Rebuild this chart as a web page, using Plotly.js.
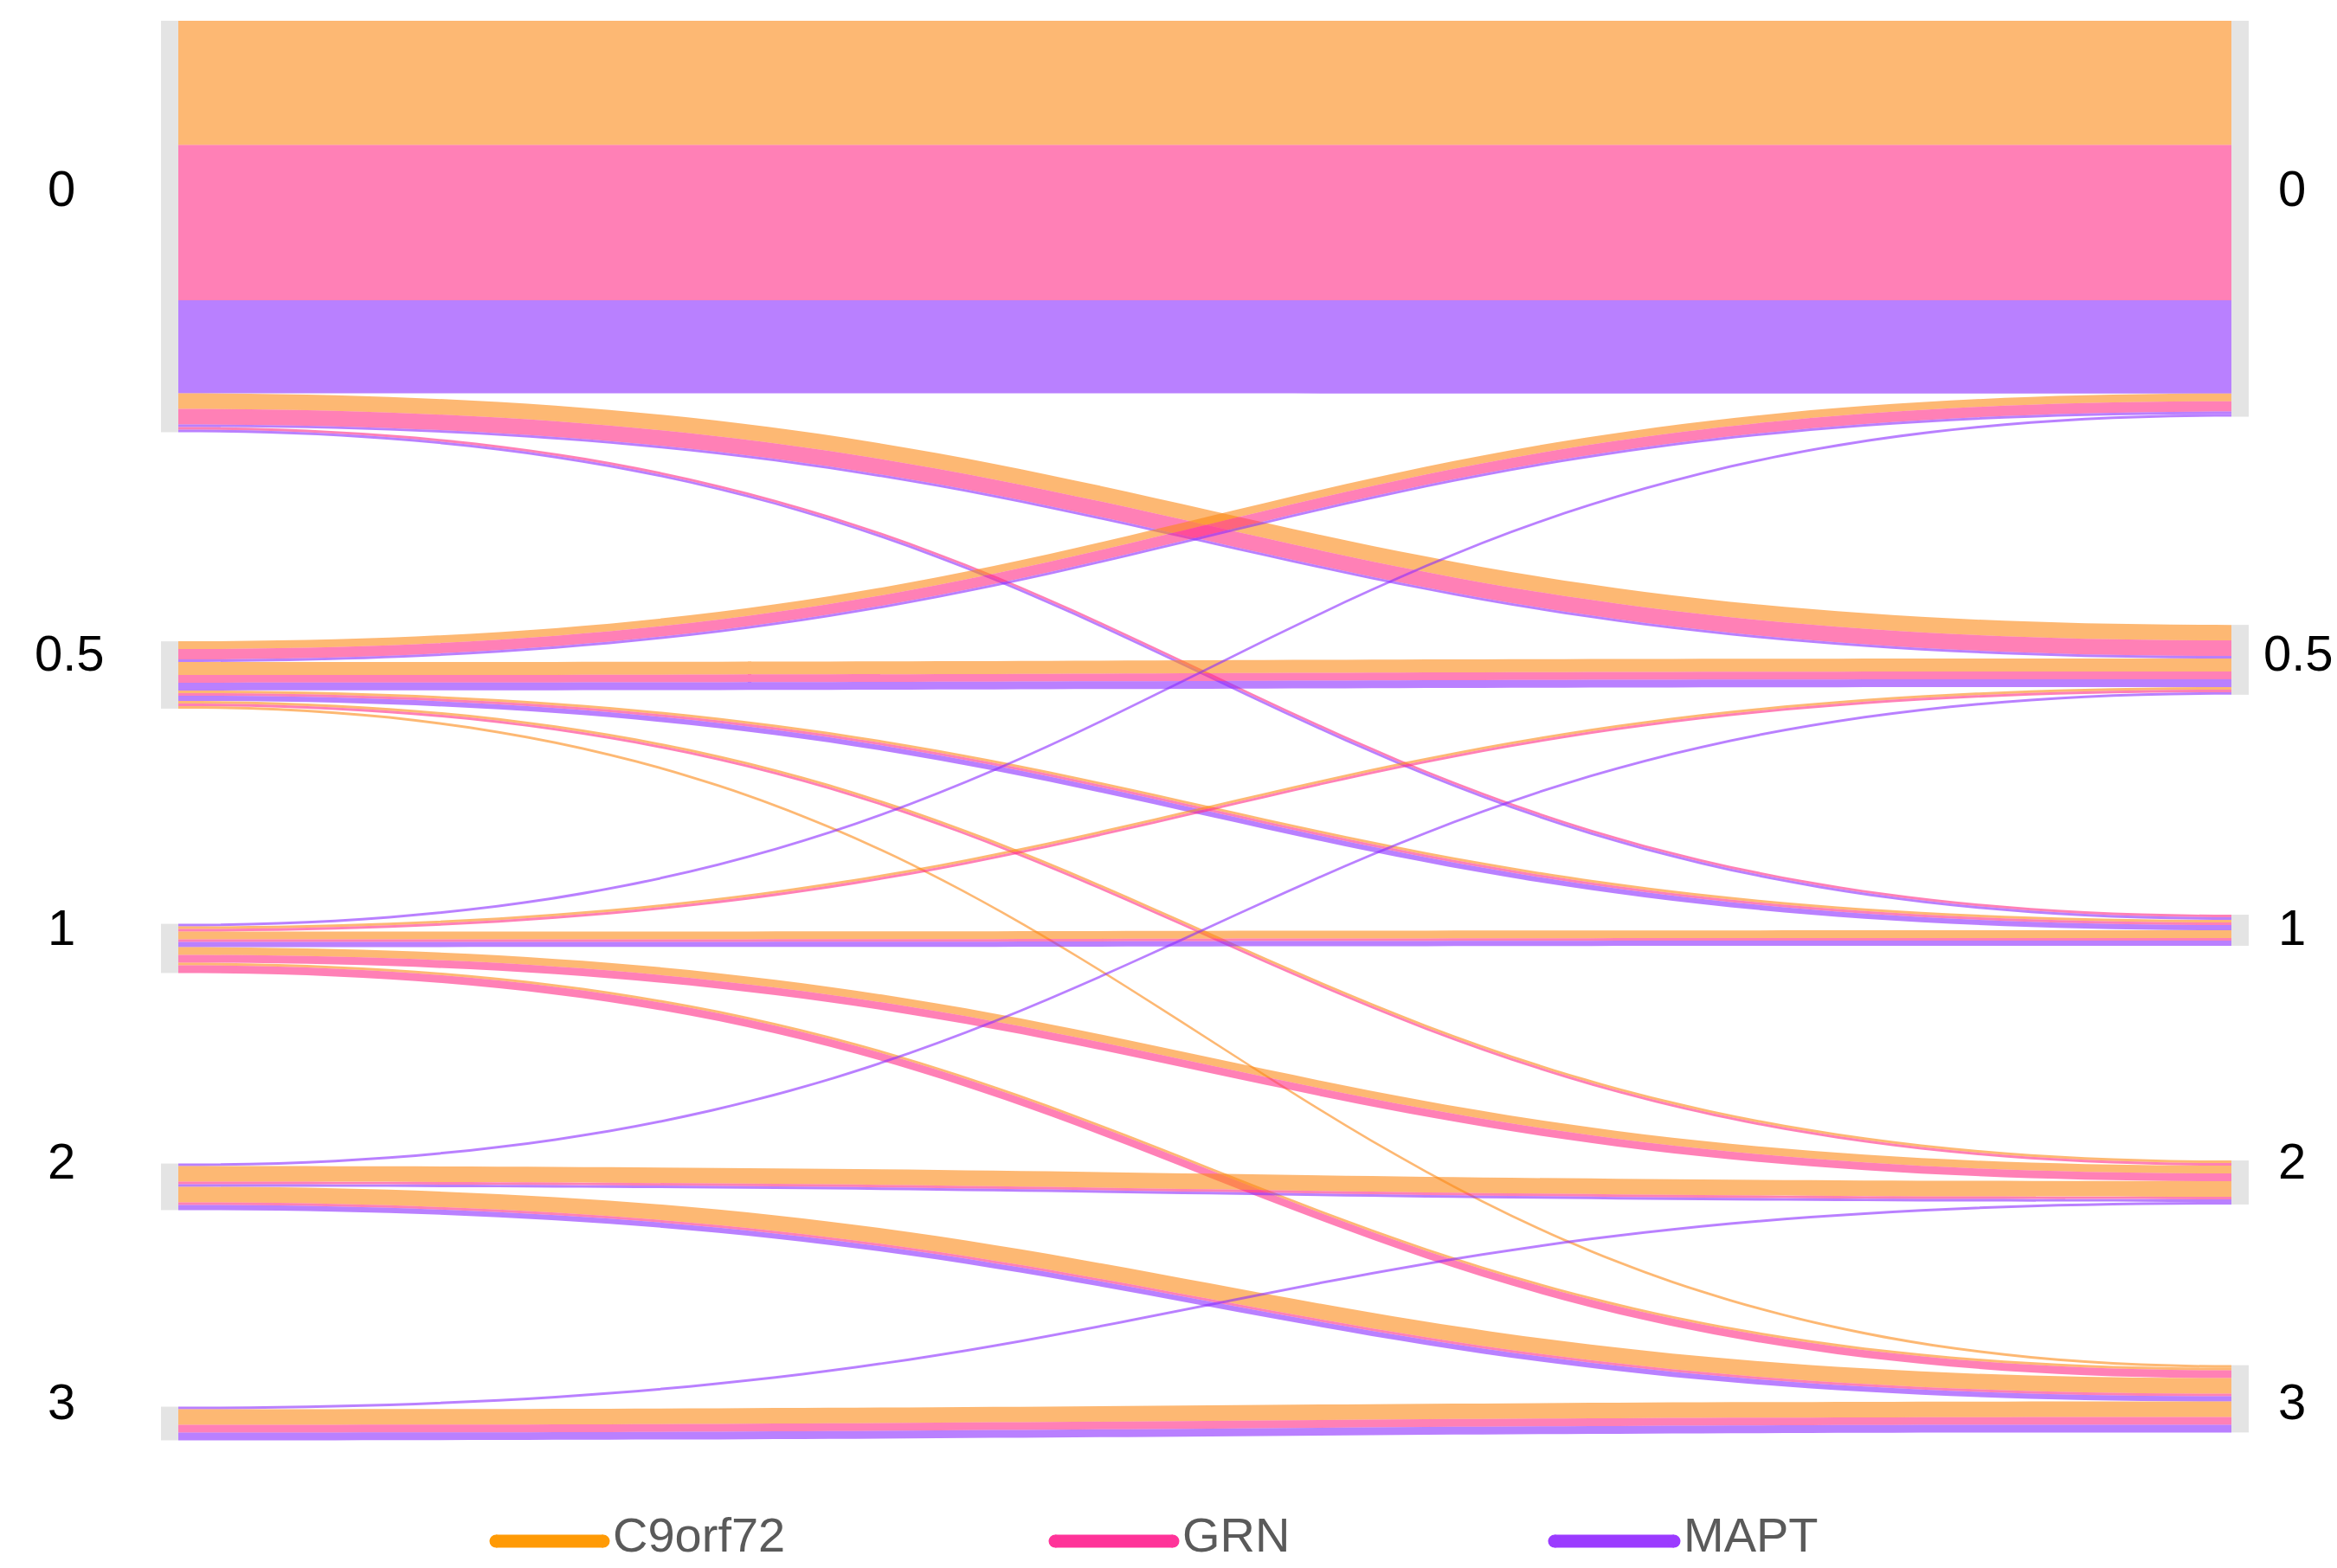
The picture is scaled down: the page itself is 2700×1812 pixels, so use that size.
<!DOCTYPE html>
<html>
<head>
<meta charset="utf-8">
<script src="https://cdn.plot.ly/plotly-3.0.1.min.js"></script>
<style>html,body{margin:0;padding:0;background:#ffffff;}</style>
</head>
<body>
<div id="chart" style="width:2700px;height:1812px;"></div>
<script>
// ---------------- DATA ----------------
const scores = ['0', '0.5', '1', '2', '3'];          // CDR score categories
const genes = ['C9orf72', 'GRN', 'MAPT'];
// transition counts: rows = baseline score, columns = follow-up score
const c9orf72 = [
  [48, 6, 0, 0, 0],
  [3, 5, 1, 1, 1],
  [0, 1, 3, 3, 1],
  [0, 0, 0, 6, 6],
  [0, 0, 0, 0, 6]
];
const grn = [
  [60, 6, 1, 0, 0],
  [4, 3, 1, 1, 0],
  [0, 1, 1, 3, 3],
  [0, 0, 0, 1, 1],
  [0, 0, 0, 0, 3]
];
const mapt = [
  [36, 1, 1, 0, 0],
  [1, 3, 2, 0, 0],
  [1, 0, 2, 0, 0],
  [0, 1, 0, 1, 2],
  [0, 0, 0, 1, 3]
];

// ---------------- STYLE / LAYOUT ----------------
const W = 2700, H = 1812;
const linkColors = ['rgba(252,137,22,0.6)', 'rgba(255,43,133,0.6)', 'rgba(138,43,255,0.6)'];
const legendColors = ['#ff9a05', '#ff3399', '#9b3bff'];
const nodeCenterX = [196, 2588];                                 // px, left / right column
const leftCenterY = [261.7, 780, 1096, 1371.5, 1645];            // px
const rightCenterY = [252.8, 762.5, 1075, 1366.5, 1616.5];       // px
const nodePad = 277.3;
const labelFont = 'Liberation Sans, Arial, sans-serif';

const matrices = [c9orf72, grn, mapt];
const n = scores.length;
const src = [], tgt = [], val = [], col = [], lab = [];
for (let i = 0; i < n; i++) {
  for (let j = 0; j < n; j++) {
    for (let g = 0; g < genes.length; g++) {
      const v = matrices[g][i][j];
      if (v > 0) {
        src.push(i); tgt.push(n + j); val.push(v);
        col.push(linkColors[g]); lab.push(genes[g]);
      }
    }
  }
}

const nodeX = [], nodeY = [], nodeCustom = [];
for (let i = 0; i < n; i++) { nodeX.push(nodeCenterX[0] / W); nodeY.push(leftCenterY[i] / H); nodeCustom.push('Baseline ' + scores[i]); }
for (let i = 0; i < n; i++) { nodeX.push(nodeCenterX[1] / W); nodeY.push(rightCenterY[i] / H); nodeCustom.push('Follow-up ' + scores[i]); }

const trace = {
  type: 'sankey',
  arrangement: 'fixed',
  domain: {x: [0, 1], y: [0, 1]},
  node: {
    pad: nodePad,
    thickness: 20,
    x: nodeX,
    y: nodeY,
    color: 'rgb(228,228,228)',
    line: {width: 0},
    customdata: nodeCustom,
    hovertemplate: '%{customdata}<extra></extra>'
  },
  link: {
    source: src,
    target: tgt,
    value: val,
    color: col,
    label: lab,
    line: {width: 0}
  }
};

// score labels
const labelLeftX = [71, 80, 71, 71, 71];
const labelRightX = [2648, 2655, 2648, 2648, 2648];
const labelY = [217, 754, 1071, 1341, 1619];
const annotations = [];
for (let i = 0; i < n; i++) {
  annotations.push({xref: 'paper', yref: 'paper', x: labelLeftX[i] / W, y: 1 - labelY[i] / H,
    text: scores[i], showarrow: false, xanchor: 'center', yanchor: 'middle',
    font: {family: labelFont, size: 58, color: '#000'}});
  annotations.push({xref: 'paper', yref: 'paper', x: labelRightX[i] / W, y: 1 - labelY[i] / H,
    text: scores[i], showarrow: false, xanchor: 'center', yanchor: 'middle',
    font: {family: labelFont, size: 58, color: '#000'}});
}

// custom legend
const legLineX = [[573, 697], [1219, 1355], [1796, 1934]];
const legY = 1781, legHalf = 7.5, legTextY = 1773;
const shapes = [];
for (let g = 0; g < genes.length; g++) {
  const [a, b] = legLineX[g];
  const c = legendColors[g];
  shapes.push({type: 'rect', xref: 'paper', yref: 'paper', x0: a / W, x1: b / W,
    y0: 1 - (legY + legHalf) / H, y1: 1 - (legY - legHalf) / H, fillcolor: c, line: {width: 0}});
  [a, b].forEach(px => shapes.push({type: 'circle', xref: 'paper', yref: 'paper',
    x0: (px - legHalf) / W, x1: (px + legHalf) / W,
    y0: 1 - (legY + legHalf) / H, y1: 1 - (legY - legHalf) / H, fillcolor: c, line: {width: 0}}));
  annotations.push({xref: 'paper', yref: 'paper', x: (b + 9) / W, y: 1 - legTextY / H,
    text: genes[g], showarrow: false, xanchor: 'left', yanchor: 'middle',
    font: {family: labelFont, size: 56, color: '#5a5a5a'}});
}

const layout = {
  width: W, height: H,
  margin: {l: 0, r: 0, t: 0, b: 0},
  paper_bgcolor: '#ffffff',
  plot_bgcolor: '#ffffff',
  showlegend: false,
  annotations: annotations,
  shapes: shapes
};

Plotly.newPlot('chart', [trace], layout, {displayModeBar: false, responsive: false});
</script>
</body>
</html>
